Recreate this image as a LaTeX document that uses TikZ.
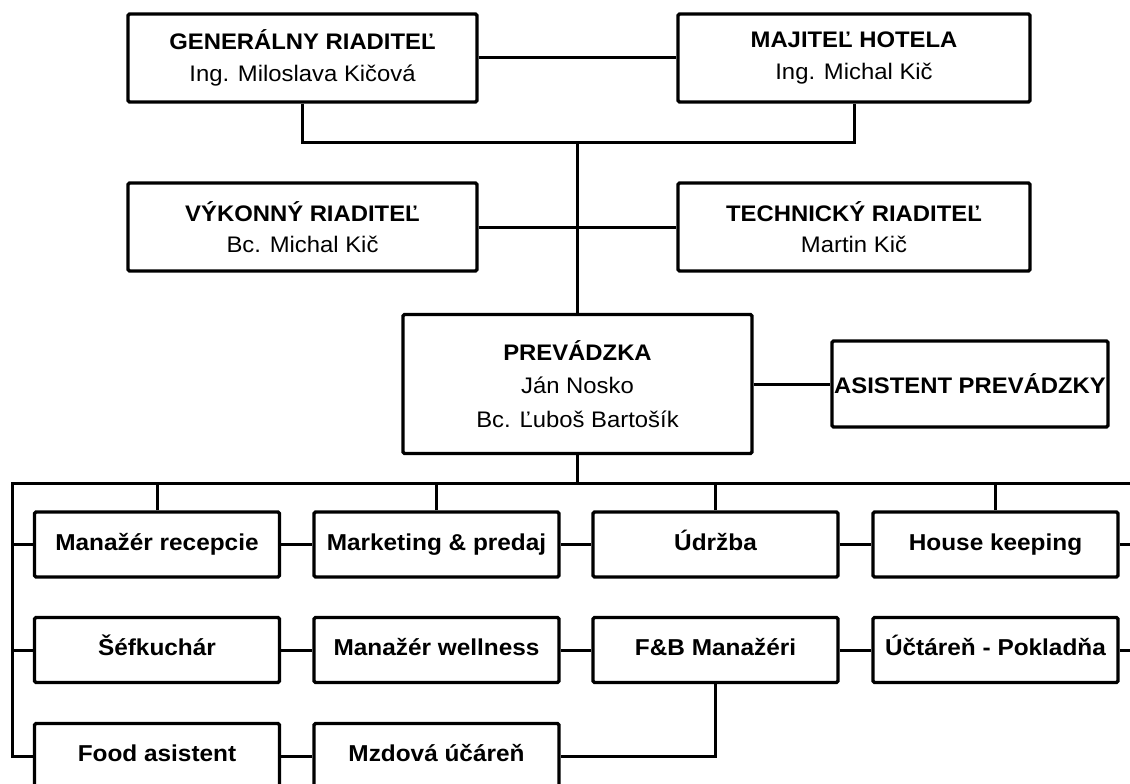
\documentclass[tikz,border=0pt]{standalone}
\usepackage{fontspec}
\setmainfont{Liberation Sans}[FakeStretch=1.06]
\begin{document}
\begin{tikzpicture}[x=1pt,y=-1pt,
  box/.style={draw, line width=3.3pt, rounded corners=1.5pt, inner sep=0pt, align=center,
              font=\fontsize{22.5}{31.5}\selectfont},
  big/.style={box, minimum width=349pt, minimum height=88pt},
  unit/.style={box, minimum width=245pt, minimum height=65pt, text height=16.5pt, text depth=5.5pt,
               font=\fontsize{23}{28}\selectfont\bfseries},
  link/.style={line width=3pt}]
\useasboundingbox (0,0) rectangle (1130,784);
\clip (0,0) rectangle (1130,784);

% top management
\node[big] (gr) at (302.5,58) {\textbf{GENERÁLNY RIADITEĽ}\\Ing. Miloslava Kičová};
\node[big, minimum width=352pt] (mh) at (854,58) {\textbf{MAJITEĽ HOTELA}\\Ing. Michal Kič};
\node[big] (vr) at (302.5,227) {\textbf{VÝKONNÝ RIADITEĽ}\\Bc. Michal Kič};
\node[big, minimum width=352pt] (tr) at (854,227) {\textbf{TECHNICKÝ RIADITEĽ}\\Martin Kič};
\node[big, minimum height=139pt, font=\fontsize{22.5}{33.5}\selectfont] (prev) at (577.5,384)
  {\textbf{PREVÁDZKA}\\Ján Nosko\\Bc. Ľuboš Bartošík};
\node[box, minimum width=276pt, minimum height=86pt] (asis) at (970,384) {\textbf{ASISTENT PREVÁDZKY}};

% units: u<col><row>
\node[unit] (u11) at (157,544.5) {Manažér recepcie};
\node[unit] (u21) at (436.5,544.5) {Marketing \& predaj};
\node[unit] (u31) at (715.5,544.5) {Údržba};
\node[unit] (u41) at (995.5,544.5) {House keeping};
\node[unit] (u12) at (157,650) {Šéfkuchár};
\node[unit] (u22) at (436.5,650) {Manažér wellness};
\node[unit] (u32) at (715.5,650) {F\&B Manažéri};
\node[unit] (u42) at (995.5,650) {Účtáreň - Pokladňa};
\node[unit] (u13) at (157,756) {Food asistent};
\node[unit] (u23) at (436.5,756) {Mzdová účáreň};

% helper coordinates
\coordinate (j1) at (577.5,142);
\coordinate (bl) at (12,483.5);
\coordinate (br) at (1145,483.5);
\coordinate (re) at (1145,0);

% top connectors
\draw[link] (gr.east) -- (mh.west);
\draw[link] (gr.south) |- (j1) -| (mh.south);
\draw[link] (j1) -- (prev.north);
\draw[link] (vr.east) -- (tr.west);
\draw[link] (prev.east) -- (asis.west);
\draw[link] (prev.south) -- (prev.south |- bl);

% bus
\draw[link] (br) -- (bl) -- (bl |- u13.west) -- (u13.west);
\draw[link] (bl |- u11.west) -- (u11.west);
\draw[link] (bl |- u12.west) -- (u12.west);
\foreach \u in {u11,u21,u31,u41}
  \draw[link] (\u.north) -- (\u.north |- bl);

% row links
\draw[link] (u11.east) -- (u21.west);
\draw[link] (u21.east) -- (u31.west);
\draw[link] (u31.east) -- (u41.west);
\draw[link] (u41.east) -- (u41.east -| re);
\draw[link] (u12.east) -- (u22.west);
\draw[link] (u22.east) -- (u32.west);
\draw[link] (u32.east) -- (u42.west);
\draw[link] (u42.east) -- (u42.east -| re);
\draw[link] (u13.east) -- (u23.west);
\draw[link] (u32.south) |- (u23.east);
\end{tikzpicture}
\end{document}
